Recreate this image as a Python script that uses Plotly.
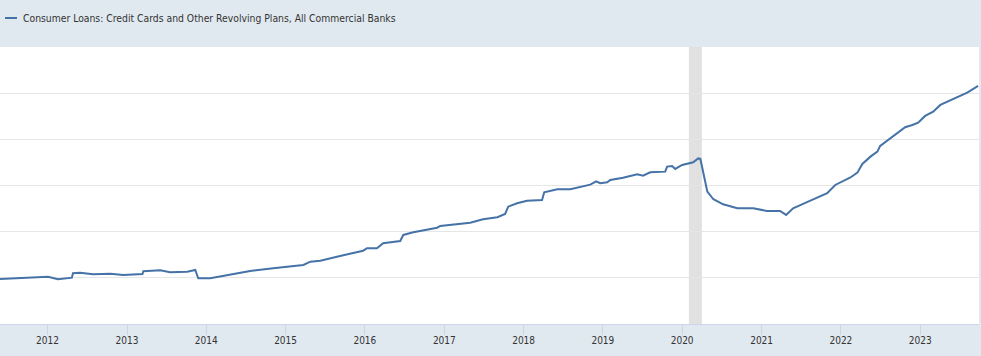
import plotly.graph_objects as go

series_name = "Consumer Loans: Credit Cards and Other Revolving Plans, All Commercial Banks"

dates = [
    "2011-05-27", "2011-09-28", "2012-01-03", "2012-02-18", "2012-04-22", "2012-04-27",
    "2012-05-30", "2012-07-29", "2012-10-16", "2012-12-15", "2013-03-13", "2013-03-17",
    "2013-06-03", "2013-07-18", "2013-10-05", "2013-11-11", "2013-11-25", "2014-01-19",
    "2014-05-05", "2014-07-22", "2014-11-05", "2015-03-24", "2015-04-25", "2015-06-10",
    "2015-09-09", "2015-12-24", "2016-01-11", "2016-02-26", "2016-03-25", "2016-06-12",
    "2016-06-26", "2016-08-11", "2016-11-29", "2016-12-13", "2017-04-30", "2017-06-28",
    "2017-09-02", "2017-10-08", "2017-10-22", "2017-12-02", "2018-01-17", "2018-03-27",
    "2018-04-06", "2018-06-05", "2018-08-04", "2018-11-04", "2018-12-01", "2018-12-20",
    "2019-01-21", "2019-02-04", "2019-04-04", "2019-06-08", "2019-07-05", "2019-08-07",
    "2019-10-15", "2019-10-24", "2019-11-16", "2019-11-30", "2020-01-01", "2020-02-21",
    "2020-03-15", "2020-03-25", "2020-04-08", "2020-04-26", "2020-05-24", "2020-07-08",
    "2020-09-11", "2020-11-24", "2021-01-26", "2021-03-27", "2021-04-24", "2021-05-26",
    "2021-07-11", "2021-08-26", "2021-10-30", "2021-12-06", "2022-02-14", "2022-03-18",
    "2022-04-10", "2022-05-17", "2022-06-18", "2022-07-01", "2022-08-30", "2022-10-24",
    "2022-11-26", "2022-12-23", "2023-01-24", "2023-03-02", "2023-04-04", "2023-05-06",
    "2023-06-21", "2023-08-06", "2023-09-25",
]

values = [
    597.8, 601.5, 602.8, 597.2, 600.7, 610.2,
    611.5, 608.0, 609.3, 606.5, 608.7, 614.6,
    616.7, 612.4, 613.7, 617.4, 599.3, 599.3,
    609.3, 615.2, 621.1, 628.3, 635.4, 637.6,
    647.8, 659.3, 664.6, 664.6, 675.4, 680.4,
    693.5, 699.3, 709.3, 713.0, 720.2, 727.6,
    732.0, 739.1, 755.0, 762.4, 768.0, 769.6,
    786.3, 792.8, 792.8, 802.8, 810.2, 805.9,
    808.0, 813.0, 818.0, 825.4, 822.4, 829.8,
    831.1, 842.0, 843.5, 837.0, 845.7, 851.5,
    859.8, 858.7, 827.6, 787.6, 771.1, 760.2,
    751.5, 751.5, 745.7, 745.7, 737.0, 751.5,
    760.9, 771.1, 784.1, 802.2, 818.5, 828.9,
    847.8, 863.7, 874.6, 887.0, 907.2, 927.6,
    932.6, 937.6, 952.2, 961.5, 976.1, 983.3,
    992.8, 1002.8, 1017.4,
]

recession_start = "2020-02-01"
recession_end = "2020-04-01"

year_ticks = ["2012-01-01", "2013-01-01", "2014-01-01", "2015-01-01", "2016-01-01",
              "2017-01-01", "2018-01-01", "2019-01-01", "2020-01-01", "2021-01-01",
              "2022-01-01", "2023-01-01"]
year_labels = ["2012", "2013", "2014", "2015", "2016", "2017", "2018", "2019",
               "2020", "2021", "2022", "2023"]

y_ticks = [600, 700, 800, 900, 1000]

FONT = "Liberation Sans Narrow, DejaVu Sans Condensed, Arial Narrow, sans-serif"
LINE = "#4572a7"

fig = go.Figure()
fig.add_trace(go.Scatter(
    x=dates, y=values, mode="lines", name=series_name,
    line=dict(color=LINE, width=2), showlegend=False,
))

fig.add_shape(type="rect", xref="x", yref="paper",
              x0=recession_start, x1=recession_end, y0=0, y1=1,
              fillcolor="#e1e1e1", line=dict(width=0), layer="below")

# header legend
fig.add_shape(type="line", xref="paper", yref="paper",
              x0=5 / 979, x1=17 / 979, y0=(324 - 18) / 277, y1=(324 - 18) / 277,
              line=dict(color=LINE, width=2))
fig.add_annotation(text=series_name, xref="paper", yref="paper",
                   x=21 / 979, y=(324 - 18) / 277, xanchor="left", yanchor="middle",
                   showarrow=False, font=dict(family=FONT, size=10.3, color="#333333"))

fig.update_layout(
    width=981, height=356,
    margin=dict(l=0, r=2, t=47, b=32),
    paper_bgcolor="#e1e9f0",
    plot_bgcolor="#ffffff",
    font=dict(family=FONT, size=10, color="#333333"),
    xaxis=dict(
        type="date", range=["2011-05-27", "2023-09-29"],
        tickvals=year_ticks, ticktext=year_labels,
        showgrid=False, ticks="outside", ticklen=10, tickcolor="#ccd6eb",
        ticklabelstandoff=-3,
        showline=True, linecolor="#ccd6eb", linewidth=1,
        tickfont=dict(family=FONT, size=10, color="#333333"),
        zeroline=False, fixedrange=True,
    ),
    yaxis=dict(
        range=[500, 1102], tickvals=y_ticks, showticklabels=False,
        showgrid=True, gridcolor="#e6e6e6", gridwidth=1, zeroline=False,
        showline=False, fixedrange=True,
    ),
)

fig.write_html(
    "out.html",
    config={"displayModeBar": False},
    post_script="document.body.style.margin='0';document.body.style.overflow='hidden';",
)
